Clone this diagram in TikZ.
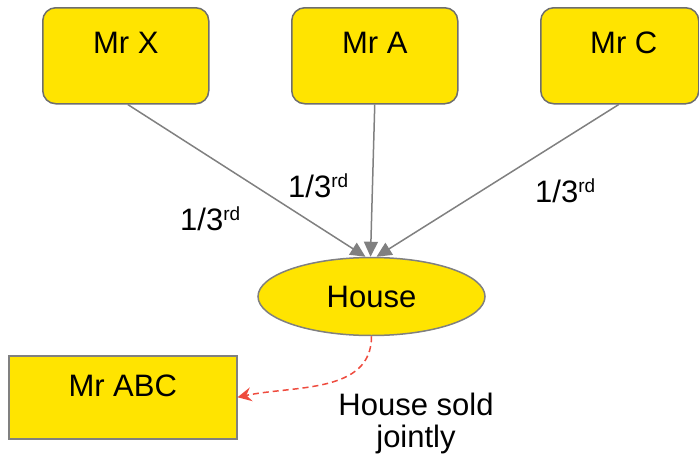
\documentclass[tikz,border=0pt]{standalone}
\usepackage{fontspec}
\setmainfont{Liberation Sans}
\usetikzlibrary{arrows.meta,shapes.geometric}
\definecolor{boxyellow}{HTML}{FFE400}
\definecolor{edgegray}{HTML}{6E6E6E}
\definecolor{linegray}{HTML}{808080}
\definecolor{soldred}{HTML}{EE4B3E}
\tikzset{
  txt/.style={font=\fontsize{31}{32}\selectfont},
  person/.style={txt, draw=edgegray, line width=1.5pt, fill=boxyellow,
    rounded corners=13pt, inner sep=0pt, align=center,
    minimum width=166pt, text height=46pt, text depth=50pt},
  buyer/.style={txt, draw=linegray, line width=1.5pt, fill=boxyellow,
    inner sep=0pt, align=center, minimum width=228pt,
    text height=41pt, text depth=42pt},
  asset/.style={txt, ellipse, draw=linegray, line width=1.5pt, fill=boxyellow,
    inner sep=0pt, minimum width=227pt, minimum height=78pt, text depth=0pt},
  share/.style={draw=linegray, line width=1.5pt,
    -{Triangle[length=15pt, width=14pt]}},
  sale/.style={draw=soldred, line width=1.5pt, dash pattern=on 6pt off 4pt,
    -{Stealth[length=14pt, width=14pt, inset=5pt]}},
  frac/.style={txt, inner sep=0pt, anchor=base west},
}
\newcommand{\third}{1/3\raisebox{10pt}{\fontsize{19}{19}\selectfont rd}}
\begin{document}
\begin{tikzpicture}[x=1pt, y=-1pt]
  \useasboundingbox (0,0) rectangle (699,453);

  % owners
  \node[person, anchor=north west] (mx) at (42,7) {Mr X};
  \node[person, anchor=north west] (ma) at (291,7) {Mr A};
  \node[person, anchor=north west, minimum width=158pt] (mc) at (540,7)
    {\hspace*{8pt}Mr C};

  % the shared property
  \node[asset] (house) at (371.5,296.5) {House};

  % the buyer
  \node[buyer, anchor=north west] (abc) at (8,355) {Mr ABC};

  % shares
  \coordinate (tipx) at ([xshift=-6pt]house.north);
  \coordinate (tipa) at ([xshift=-1pt]house.north);
  \coordinate (tipc) at ([xshift=5pt]house.north);
  \draw[share] ([xshift=2pt]mx.south) -- (tipx);
  \draw[share] (ma.south) -- (tipa);
  \draw[share] ([xshift=-1pt]mc.south) -- (tipc);

  \node[frac] (fx) at (180,230) {\third};
  \node[frac] (fa) at (288,197) {\third};
  \node[frac] (fc) at (535,202) {\third};

  % sale
  \draw[sale] (house.south) to[out=-90, in=12] (abc.east);
  \node[txt, align=center, inner sep=0pt, anchor=base] (sold) at (416,447)
    {House sold\\jointly};
\end{tikzpicture}
\end{document}
